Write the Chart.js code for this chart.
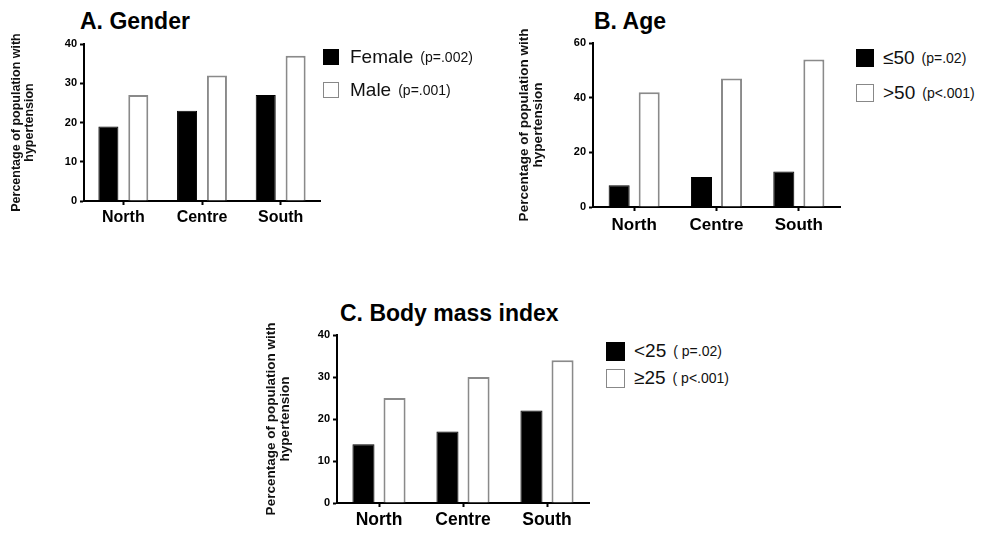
<!DOCTYPE html>
<html>
<head>
<meta charset="utf-8">
<script src="https://cdn.jsdelivr.net/npm/chart.js@4"></script>
<style>
  body { margin: 0; background: #fff; width: 991px; height: 534px; position: relative; overflow: hidden;
         font-family: "Liberation Sans", Arial, sans-serif; color: #000; }
  canvas { position: absolute; }
  .title { position: absolute; font-weight: bold; font-size: 23px; line-height: 23px; white-space: nowrap; }
  .leg { position: absolute; display: flex; align-items: center; height: 20px; white-space: nowrap; color: #111; }
  .sw { box-sizing: border-box; display: inline-block; }
  .sw.dark { background: #000; border: 1px solid #000; }
  .sw.open { background: #fff; border: 1.5px solid #888; }
  .big { font-size: 19px; }
  .small { font-size: 14px; }
</style>
</head>
<body>
<div class="title" style="left:80px; top:10px">A. Gender</div>
<div class="title" style="left:594px; top:10px">B. Age</div>
<div class="title" style="left:340px; top:302px">C. Body mass index</div>

<canvas id="chartA" width="330" height="240" style="left:0; top:0"></canvas>
<canvas id="chartB" width="345" height="245" style="left:500px; top:0"></canvas>
<canvas id="chartC" width="345" height="244" style="left:250px; top:290px"></canvas>

<div id="legends"></div>

<script>
// data
var regions = ["North", "Centre", "South"];
var genderFemale = [19, 23, 27];
var genderMale = [27, 32, 37];
var ageUpTo50 = [8, 11, 13];
var ageOver50 = [42, 47, 54];
var bmiUnder25 = [14, 17, 22];
var bmiOver25 = [25, 30, 34];
var yTitle = ["Percentage of population with", "hypertension"];

var genderLegend = ["Female", "Male"];
var genderP = ["(p=.002)", "(p=.001)"];
var ageLegend = ["\u226450", ">50"];
var ageP = ["(p=.02)", "(p<.001)"];
var bmiLegend = ["<25", "\u226525"];
var bmiP = ["( p=.02)", "( p<.001)"];

var FONT = "'Liberation Sans', Arial, sans-serif";

function makeChart(id, dark, open, cfg) {
  var ctx = document.getElementById(id).getContext("2d");
  return new Chart(ctx, {
    type: "bar",
    data: {
      labels: regions,
      datasets: [
        {
          data: dark,
          backgroundColor: "#000",
          borderColor: "#000",
          borderWidth: 1,
          categoryPercentage: cfg.catPct,
          barPercentage: cfg.barPct
        },
        {
          data: open,
          backgroundColor: "#fff",
          borderColor: "#8a8a8a",
          borderWidth: 2,
          categoryPercentage: cfg.catPct,
          barPercentage: cfg.barPct
        }
      ]
    },
    options: {
      responsive: false,
      animation: false,
      layout: { padding: { top: cfg.top, right: cfg.right, left: 0, bottom: 0 } },
      plugins: { legend: { display: false }, tooltip: { enabled: false }, title: { display: false } },
      scales: {
        x: {
          offset: true,
          grid: { offset: false, drawOnChartArea: false, tickLength: 4, tickColor: "#000", tickWidth: 2 },
          border: { color: "#000", width: 2 },
          ticks: { color: "#000", padding: cfg.xPad, font: { family: FONT, size: cfg.xFont, weight: "bold" } },
          afterFit: function(s) { s.height = cfg.xHeight; }
        },
        y: {
          min: 0,
          max: cfg.yMax,
          grid: { drawOnChartArea: false, tickLength: 4, tickColor: "#000", tickWidth: 2 },
          border: { color: "#000", width: 2 },
          ticks: { stepSize: cfg.step, color: "#000", padding: 3, font: { family: FONT, size: 11, weight: "bold" } },
          title: {
            display: true,
            text: yTitle,
            color: "#111",
            padding: { top: cfg.titlePad, bottom: 0 },
            font: { family: FONT, size: cfg.titleFont, weight: "bold", lineHeight: 1.0 }
          },
          afterFit: function(s) { s.width = cfg.yWidth; }
        }
      }
    }
  });
}

makeChart("chartA", genderFemale, genderMale, {
  catPct: 0.76, barPct: 0.67, top: 44, right: 10, xHeight: 39, yWidth: 84,
  yMax: 40, step: 10, xFont: 16, xPad: 3, titleFont: 12.5, titlePad: 10.5
});
makeChart("chartB", ageUpTo50, ageOver50, {
  catPct: 0.73, barPct: 0.7, top: 43, right: 5, xHeight: 38, yWidth: 93,
  yMax: 60, step: 20, xFont: 17, xPad: 4, titleFont: 13.5, titlePad: 18
});
makeChart("chartC", bmiUnder25, bmiOver25, {
  catPct: 0.74, barPct: 0.71, top: 45, right: 6, xHeight: 31, yWidth: 87,
  yMax: 40, step: 10, xFont: 17.5, xPad: 3, titleFont: 13.5, titlePad: 15
});

// legends as html rows: square, label, p value
function addLegend(left, tops, size, names, ps, bigSize) {
  var box = document.getElementById("legends");
  for (var i = 0; i < names.length; i++) {
    var row = document.createElement("div");
    row.className = "leg";
    row.style.left = left + "px";
    row.style.top = tops[i] + "px";
    var sw = document.createElement("span");
    sw.className = "sw " + (i === 0 ? "dark" : "open");
    sw.style.width = size + "px";
    sw.style.height = size + "px";
    sw.style.marginRight = (size < 18 ? 11 : 9) + "px";
    var big = document.createElement("span");
    big.className = "big";
    big.style.fontSize = bigSize + "px";
    big.textContent = names[i];
    var small = document.createElement("span");
    small.className = "small";
    small.style.marginLeft = "7px";
    small.textContent = ps[i];
    row.appendChild(sw);
    row.appendChild(big);
    row.appendChild(small);
    box.appendChild(row);
  }
}

addLegend(323, [47, 80], 16, genderLegend, genderP, 19);
addLegend(856, [48, 83], 18, ageLegend, ageP, 19);
addLegend(606, [341, 368], 19, bmiLegend, bmiP, 19);
</script>
</body>
</html>
